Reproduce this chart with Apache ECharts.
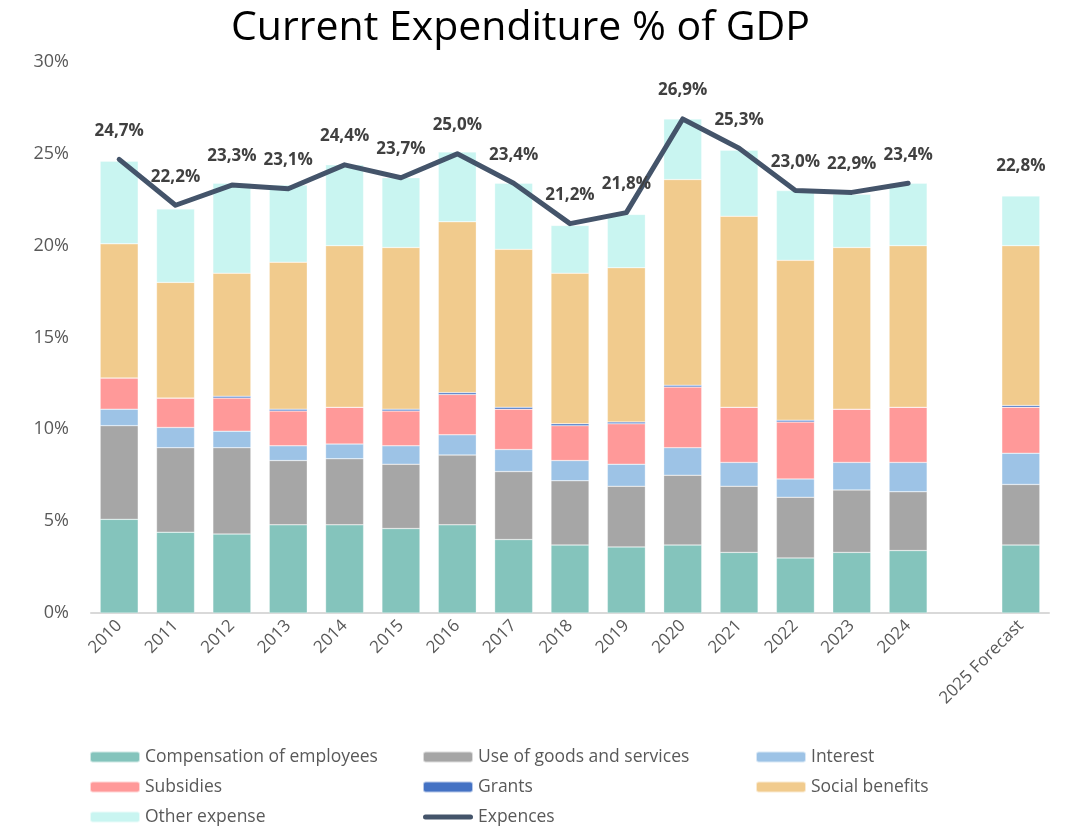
<!DOCTYPE html>
<html>
<head>
  <meta charset="UTF-8">
  <title>Current Expenditure % of GDP</title>
  <style>
    html, body { margin: 0; padding: 0; background: #fff; }
    #main { width: 1085px; height: 829px; }
  </style>
  <script src="https://cdn.jsdelivr.net/npm/echarts@6/dist/echarts.min.js"></script>
</head>
<body>
  <div id="main"></div>
  <script>
    // categories (index 15 is the empty gap before the forecast)
    var years = ['2010', '2011', '2012', '2013', '2014', '2015', '2016', '2017', '2018', '2019',
                 '2020', '2021', '2022', '2023', '2024', '', '2025 Forecast'];

    // components, % of GDP
    var compensation = [5.1, 4.4, 4.3, 4.8, 4.8, 4.6, 4.8, 4.0, 3.7, 3.6, 3.7, 3.3, 3.0, 3.3, 3.4, null, 3.7];
    var goodsServices = [5.1, 4.6, 4.7, 3.5, 3.6, 3.5, 3.8, 3.7, 3.5, 3.3, 3.8, 3.6, 3.3, 3.4, 3.2, null, 3.3];
    var interest = [0.9, 1.1, 0.9, 0.8, 0.8, 1.0, 1.1, 1.2, 1.1, 1.2, 1.5, 1.3, 1.0, 1.5, 1.6, null, 1.7];
    var subsidies = [1.7, 1.6, 1.8, 1.9, 2.0, 1.9, 2.2, 2.2, 1.9, 2.2, 3.3, 3.0, 3.1, 2.9, 3.0, null, 2.5];
    var grants = [0, 0, 0.1, 0.1, 0, 0.1, 0.1, 0.1, 0.1, 0.1, 0.1, 0, 0.1, 0, 0, null, 0.1];
    var socialBenefits = [7.3, 6.3, 6.7, 8.0, 8.8, 8.8, 9.3, 8.6, 8.2, 8.4, 11.2, 10.4, 8.7, 8.8, 8.8, null, 8.7];
    var otherExpense = [4.5, 4.0, 4.9, 4.2, 4.4, 3.8, 3.8, 3.6, 2.6, 2.9, 3.3, 3.6, 3.8, 2.9, 3.4, null, 2.7];

    // total line
    var expences = [24.7, 22.2, 23.3, 23.1, 24.4, 23.7, 25.0, 23.4, 21.2, 21.8, 26.9, 25.3, 23.0, 22.9, 23.4, null, 22.8];

    var yTicks = [0, 5, 10, 15, 20, 25, 30];

    var FONT = 'Open Sans';
    var GREY = '#595959';

    function barSeries(name, data, color) {
      return {
        name: name,
        type: 'bar',
        stack: 'total',
        data: data,
        barWidth: 38,
        itemStyle: { color: color, borderColor: 'rgba(255,255,255,0.6)', borderWidth: 0.5 },
        emphasis: { disabled: true }
      };
    }

    var chart = echarts.init(document.getElementById('main'));

    var legendBase = {
      orient: 'vertical',
      top: 747,
      height: 82,
      itemWidth: 50,
      itemHeight: 11,
      itemGap: 10,
      padding: 0,
      selectedMode: false,
      textStyle: { fontFamily: FONT, fontSize: 17.5, lineHeight: 20, color: GREY }
    };
    var lineIcon = 'path://M2.5,0 L47.5,0 A2.5,2.5 0 0 1 47.5,5 L2.5,5 A2.5,2.5 0 0 1 2.5,0 Z';

    var option = {
      animation: false,
      title: {
        text: 'Current Expenditure % of GDP',
        left: 226,
        top: 3,
        textStyle: { fontFamily: FONT, fontSize: 41, fontWeight: 'normal', color: '#000' }
      },
      legend: [
        Object.assign({}, legendBase, { left: 89, data: ['Compensation of employees', 'Subsidies', 'Other expense'] }),
        Object.assign({}, legendBase, { left: 422, data: ['Use of goods and services', 'Grants', { name: 'Expences', icon: lineIcon }] }),
        Object.assign({}, legendBase, { left: 755, data: ['Interest', 'Social benefits'] })
      ],
      grid: { left: 91, right: 36, top: 62, bottom: 216 },
      xAxis: {
        type: 'category',
        data: years,
        axisTick: { show: false },
        axisLine: { lineStyle: { color: '#d9d9d9', width: 2 } },
        axisLabel: {
          rotate: 45,
          interval: 0,
          margin: 10,
          fontFamily: FONT,
          fontSize: 17,
          color: GREY
        }
      },
      yAxis: {
        type: 'value',
        min: yTicks[0],
        max: yTicks[yTicks.length - 1],
        interval: 5,
        splitLine: { show: false },
        axisLine: { show: false },
        axisTick: { show: false },
        axisLabel: {
          formatter: '{value}%',
          margin: 22,
          fontFamily: FONT,
          fontSize: 18,
          color: GREY
        }
      },
      series: [
        barSeries('Compensation of employees', compensation, '#84c4bc'),
        barSeries('Use of goods and services', goodsServices, '#a6a6a6'),
        barSeries('Interest', interest, '#9dc3e6'),
        barSeries('Subsidies', subsidies, '#ff9999'),
        barSeries('Grants', grants, '#4472c4'),
        barSeries('Social benefits', socialBenefits, '#f1cb8d'),
        barSeries('Other expense', otherExpense, '#c9f5f1'),
        {
          name: 'Expences',
          type: 'line',
          data: expences,
          connectNulls: false,
          symbol: 'circle',
          symbolSize: 0,
          showSymbol: true,
          itemStyle: { color: '#44546a' },
          lineStyle: { color: '#44546a', width: 5, cap: 'round', join: 'round' },
          emphasis: { disabled: true },
          label: {
            show: true,
            position: 'top',
            distance: 20,
            fontFamily: FONT,
            fontSize: 17,
            fontWeight: 'bold',
            color: '#404040',
            formatter: function (p) {
              return p.value.toFixed(1).replace('.', ',') + '%';
            }
          },
          z: 10
        }
      ]
    };

    chart.setOption(option);
  </script>
</body>
</html>
